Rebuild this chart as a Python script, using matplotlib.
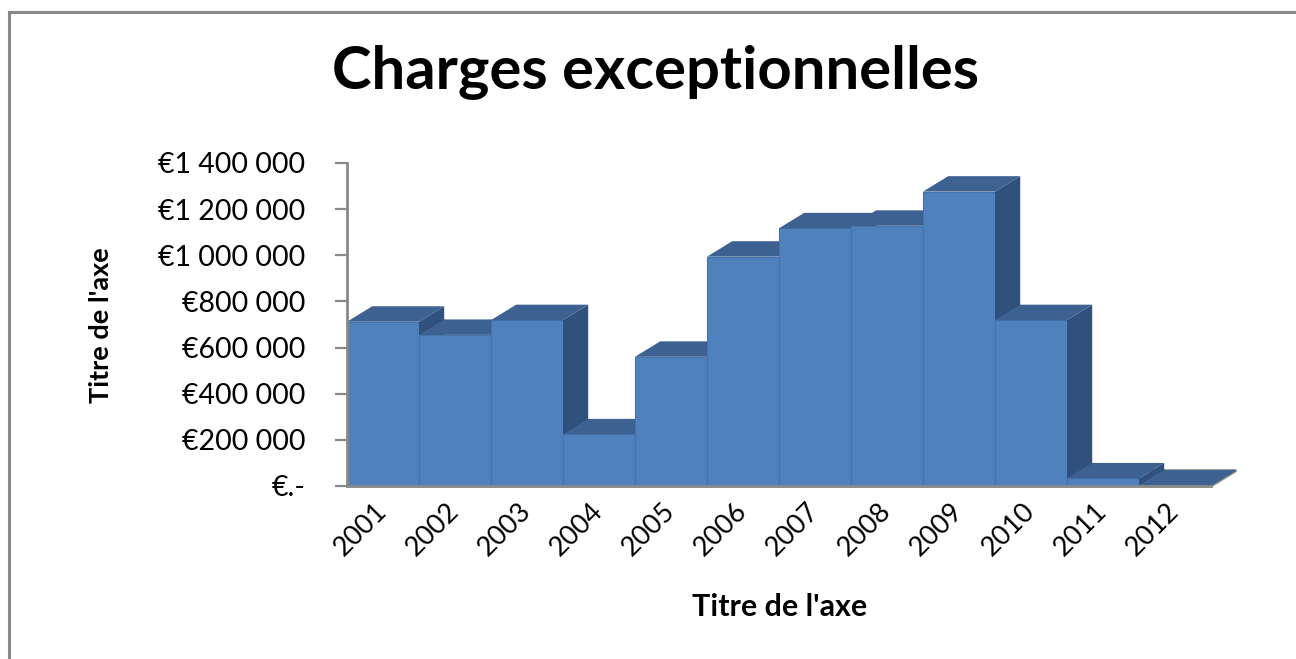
import matplotlib.pyplot as plt
from matplotlib.patches import Polygon
from matplotlib.lines import Line2D

# data
years = ['2001', '2002', '2003', '2004', '2005', '2006',
         '2007', '2008', '2009', '2010', '2011', '2012']
charges = [712000, 655000, 719000, 224000, 560000, 994000,
           1117000, 1128000, 1276000, 719000, 33000, 2000]
yticks = [0, 200000, 400000, 600000, 800000, 1000000, 1200000, 1400000]
ytick_labels = ['€.-', '€200 000', '€400 000', '€600 000', '€800 000',
                '€1 000 000', '€1 200 000', '€1 400 000']

plt.rcParams['font.family'] = ['Lato', 'DejaVu Sans']

W, H = 1296, 659
fig = plt.figure(figsize=(W / 100, H / 100), dpi=100)
ax = fig.add_axes([347 / W, (H - 486) / H, 864 / W, 323 / H])

front_c = '#4F81BD'
top_c = '#3D6291'
side_c = '#30507D'
grey = '#898989'

# fake 3d depth, in data units
dx = 0.35
dy = 67000

ax.set_xlim(-0.5, len(years) - 0.5)
ax.set_ylim(0, 1400000)

# floor plate
n = len(years)
floor = Polygon([(-0.5, 0), (n - 0.5, 0), (n - 0.5 + dx, dy), (-0.5 + dx, dy)],
                closed=True, facecolor='none', edgecolor=grey, lw=2,
                clip_on=False, zorder=1)
ax.add_patch(floor)

for i, v in enumerate(charges):
    z = 2 + i
    x0, x1 = i - 0.5, i + 0.5
    ax.add_patch(Polygon([(x0, 0), (x1, 0), (x1, v), (x0, v)], closed=True,
                         facecolor=front_c, edgecolor='#4574AC', lw=0.8,
                         clip_on=False, zorder=z))
    ax.add_patch(Polygon([(x0, v), (x1, v), (x1 + dx, v + dy), (x0 + dx, v + dy)],
                         closed=True, facecolor=top_c, edgecolor='none',
                         clip_on=False, zorder=z))
    ax.add_patch(Polygon([(x1, 0), (x1 + dx, dy), (x1 + dx, v + dy), (x1, v)],
                         closed=True, facecolor=side_c, edgecolor='none',
                         clip_on=False, zorder=z))

ax.set_yticks(yticks)
ax.set_yticklabels(ytick_labels, fontsize=20.5)
ax.set_xticks(range(n))
ax.set_xticklabels(years, fontsize=19.5, rotation=45, ha='right', va='center',
                   rotation_mode='anchor')
ax.tick_params(axis='y', direction='out', length=9, width=1.6, color=grey, pad=21)
ax.tick_params(axis='x', length=0, pad=15)

for s in ['top', 'right']:
    ax.spines[s].set_visible(False)
ax.spines['left'].set_color(grey)
ax.spines['left'].set_linewidth(2)
ax.spines['bottom'].set_color(grey)
ax.spines['bottom'].set_linewidth(2)
ax.spines['bottom'].set_zorder(50)

fig.text(655 / W, 1 - 72 / H, 'Charges exceptionnelles', fontsize=43,
         fontweight='bold', ha='center', va='center')
fig.text(780 / W, 1 - 607 / H, "Titre de l'axe", fontsize=22,
         fontweight='bold', ha='center', va='center')
fig.text(101 / W, 1 - 325 / H, "Titre de l'axe", fontsize=19.5,
         fontweight='bold', ha='center', va='center', rotation=90)

# outer chart frame (only top and left edges are in view)
fig.add_artist(Line2D([8.5 / W, 8.5 / W], [0, 1 - 11.5 / H],
                      transform=fig.transFigure, color=grey, lw=2.2))
fig.add_artist(Line2D([8.5 / W, 1], [1 - 11.5 / H, 1 - 11.5 / H],
                      transform=fig.transFigure, color=grey, lw=2.2))

fig.savefig('out.png', dpi=100)
